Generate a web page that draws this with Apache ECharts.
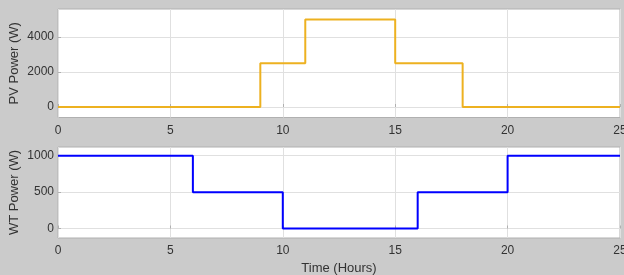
<!DOCTYPE html>
<html>
<head>
<meta charset="utf-8">
<script src="https://cdn.jsdelivr.net/npm/echarts@6/dist/echarts.min.js"></script>
<style>
html,body{margin:0;padding:0;background:#cbcbcb;}
#c{width:624px;height:275px;}
</style>
</head>
<body>
<div id="c"></div>
<script>
// Data
const pvTime = [0, 9, 11, 15, 18, 25];
const pvPower = [0, 2500, 5000, 2500, 0, 0];
const wtTime = [0, 6, 10, 16, 20, 25];
const wtPower = [1000, 500, 0, 500, 1000, 1000];
const xTicks = [0, 5, 10, 15, 20, 25];
const pvTicks = [0, 2000, 4000];
const wtTicks = [0, 500, 1000];

const font = 'Liberation Sans, Arial, Helvetica, sans-serif';
const txt = '#333333';

function xAxis(gi, name) {
  return {
    type: 'value', gridIndex: gi, min: 0, max: 25, interval: 5,
    axisLine: {show: false},
    axisTick: {show: true, inside: true, length: 3, lineStyle: {color: '#b0b0b0'}},
    axisLabel: {color: txt, fontFamily: font, fontSize: 12, margin: 7, showMaxLabel: true,
                customValues: xTicks, formatter: v => String(v)},
    splitLine: {show: true, lineStyle: {color: '#e0e0e0', width: 1}},
    name: name || '', nameLocation: 'middle', nameGap: 24, nameMoveOverlap: false,
    nameTextStyle: {color: txt, fontFamily: font, fontSize: 13}
  };
}
function yAxis(gi, min, max, ticks, name) {
  return {
    type: 'value', gridIndex: gi, min: min, max: max,
    axisLine: {show: false},
    axisTick: {show: true, inside: true, length: 3, customValues: ticks, lineStyle: {color: '#b0b0b0'}},
    axisLabel: {color: txt, fontFamily: font, fontSize: 12, margin: 4, customValues: ticks,
                formatter: v => String(v)},
    splitLine: {show: true, lineStyle: {color: '#e0e0e0', width: 1}},
    name: name, nameLocation: 'middle', nameGap: 37, nameRotate: 90, nameMoveOverlap: false,
    nameTextStyle: {color: txt, fontFamily: font, fontSize: 13}
  };
}

const chart = echarts.init(document.getElementById('c'), null, {renderer: 'canvas'});
chart.setOption({
  backgroundColor: '#cbcbcb',
  animation: false,
  grid: [
    {left: 58, top: 9, width: 562, height: 108.5, show: true, backgroundColor: '#ffffff', borderColor: '#b0b0b0', borderWidth: 1, containLabel: false, outerBoundsMode: 'none'},
    {left: 58, top: 147, width: 562, height: 91, show: true, backgroundColor: '#ffffff', borderColor: '#b0b0b0', borderWidth: 1, containLabel: false, outerBoundsMode: 'none'}
  ],
  xAxis: [xAxis(0), xAxis(1, 'Time (Hours)')],
  yAxis: [
    yAxis(0, -600, 5600, pvTicks, 'PV Power (W)'),
    yAxis(1, -130, 1120, wtTicks, 'WT Power (W)')
  ],
  series: [
    {type: 'line', xAxisIndex: 0, yAxisIndex: 0, step: 'end', symbol: 'none',
     lineStyle: {color: '#EDB120', width: 2}, data: pvTime.map((t, i) => [t, pvPower[i]])},
    {type: 'line', xAxisIndex: 1, yAxisIndex: 1, step: 'end', symbol: 'none',
     lineStyle: {color: '#0000ff', width: 2}, data: wtTime.map((t, i) => [t, wtPower[i]])}
  ]
});
</script>
</body>
</html>
